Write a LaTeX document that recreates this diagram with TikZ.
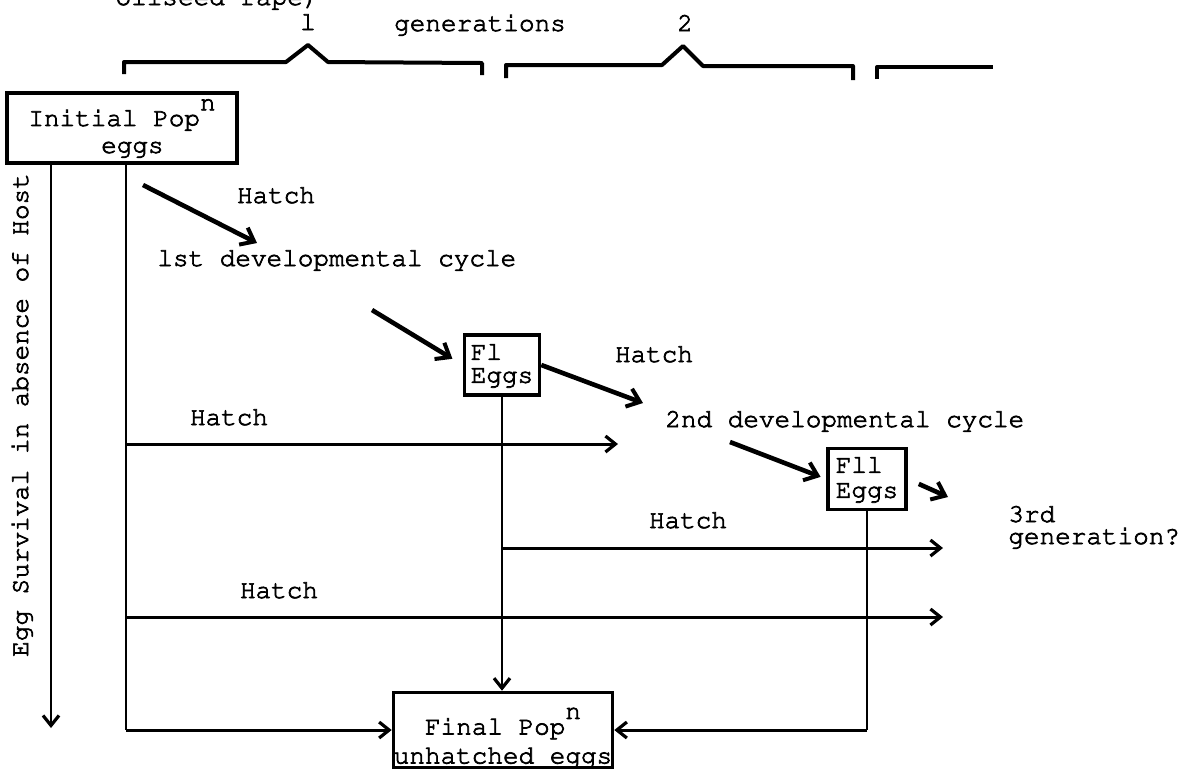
\documentclass[tikz,border=0pt]{standalone}
\usepackage[T1,TU]{fontenc}
\usetikzlibrary{arrows.meta}
\newcommand{\tw}[1]{\fontencoding{T1}\fontfamily{pcr}\fontsize{13}{#1}\selectfont\special{pdf:literal direct 2 Tr 0.35 w}}

\begin{document}
\begin{tikzpicture}[
    x=0.5pt, y=-0.5pt,
    lab/.style={font=\tw{14}, inner sep=0pt},
    box/.style={draw, line width=1.8pt, inner sep=0pt, font=\tw{13.5}},
    arr/.style={-{Straight Barb[length=5pt,width=8pt,line width=1.6pt]}},
    vline/.style={line width=1.1pt},
    hline/.style={line width=1.5pt, arr},
    diag/.style={line width=2.3pt, -{Straight Barb[length=6pt,width=9.5pt,line width=2pt]}},
    brace/.style={line width=2pt, line join=round}
]
\useasboundingbox (0,0) rectangle (1178,768);

% generation brackets
\node[lab, anchor=base] (rape) at (217,5) {oilseed rape)};
\node[lab, anchor=base] (g1) at (308,30) {l};
\node[lab, anchor=base] (gens) at (480,31) {generations};
\node[lab, anchor=base] (g2) at (685,31) {2};
\draw[brace] (124,74) -- (124,62) -- (286,62) -- (308,45) -- (328,62) -- (482,63) -- (482,75);
\draw[brace] (506,78) -- (506,65) -- (662,65) -- (683,46) -- (703,66) -- (853,66) -- (853,80);
\draw[brace] (877,79) -- (877,67) -- (993,67);

% boxes
\node[box, minimum width=115pt, minimum height=35pt, align=left] (init) at (122,128)
    {Initial Pop\raisebox{0.6em}{n}\\\hspace*{2.8em}eggs};
\node[box, minimum width=37.5pt, minimum height=30pt, align=left, font=\tw{11.5}] (f1) at (502,365) {Fl\\Eggs};
\node[box, minimum width=39pt, minimum height=30.5pt, align=left, font=\tw{12.5}] (f2) at (867,479) {Fll\\Eggs};
\node[box, minimum width=109.5pt, minimum height=35pt, align=center, font=\tw{14.5}] (final) at (503,730)
    {\rule{0pt}{21pt}Final Pop\raisebox{0.6em}{n}\\unhatched eggs};

% labels
\node[lab, anchor=base, rotate=90] (surv) at (28,415) {Egg Survival in absence of Host};
\node[lab, anchor=base] (hatch0) at (276,203) {Hatch};
\node[lab, anchor=base west] (cyc1) at (157,266) {lst developmental cycle};
\node[lab, anchor=base] (hatchf1) at (654,362) {Hatch};
\node[lab, anchor=base west] (cyc2) at (665,427) {2nd developmental cycle};
\node[lab, anchor=base] (hatch1) at (229,425) {Hatch};
\node[lab, anchor=base] (hatch2) at (688,528) {Hatch};
\node[lab, anchor=base] (hatch3) at (279,598) {Hatch};
\node[lab, anchor=base west] (gen3a) at (1008,522) {3rd};
\node[lab, anchor=base west] (gen3b) at (1008,544) {generation?};

% free ends
\coordinate (sv) at (51,728);
\coordinate (bus) at (126,0);
\coordinate (h1) at (618,444);
\coordinate (h2) at (943,548);
\coordinate (h3) at (943,617);
\coordinate (d1s) at (143,185);
\coordinate (d1e) at (257,243);
\coordinate (d2s) at (372,310);
\coordinate (d3e) at (643,403);
\coordinate (d4s) at (730,442);
\coordinate (d5e) at (948,497);

% survival and hatching lines
\draw[vline, arr] (init.south -| sv) -- (sv);
\draw[vline] (init.south -| bus) -- (bus |- final.west);
\draw[hline] (bus |- final.west) -- (final.west);
\draw[hline] (bus |- h1) -- (h1);
\draw[hline] (bus |- h3) -- (h3);
\draw[vline, arr] (f1.south) -- (f1.south |- final.north);
\draw[hline] (f1.south |- h2) -- (h2);
\draw[vline] (f2.south) -- (f2.south |- final.east);
\draw[hline] (f2.south |- final.east) -- (final.east);

% development cycles
\draw[diag] (d1s) -- (d1e);
\draw[diag, shorten >=6pt] (d2s) -- (f1.west);
\draw[diag] (f1.east) -- (d3e);
\draw[diag, shorten >=3pt] (d4s) -- (f2.west);
\draw[diag, shorten <=6pt] (f2.east) -- (d5e);
\end{tikzpicture}
\end{document}
